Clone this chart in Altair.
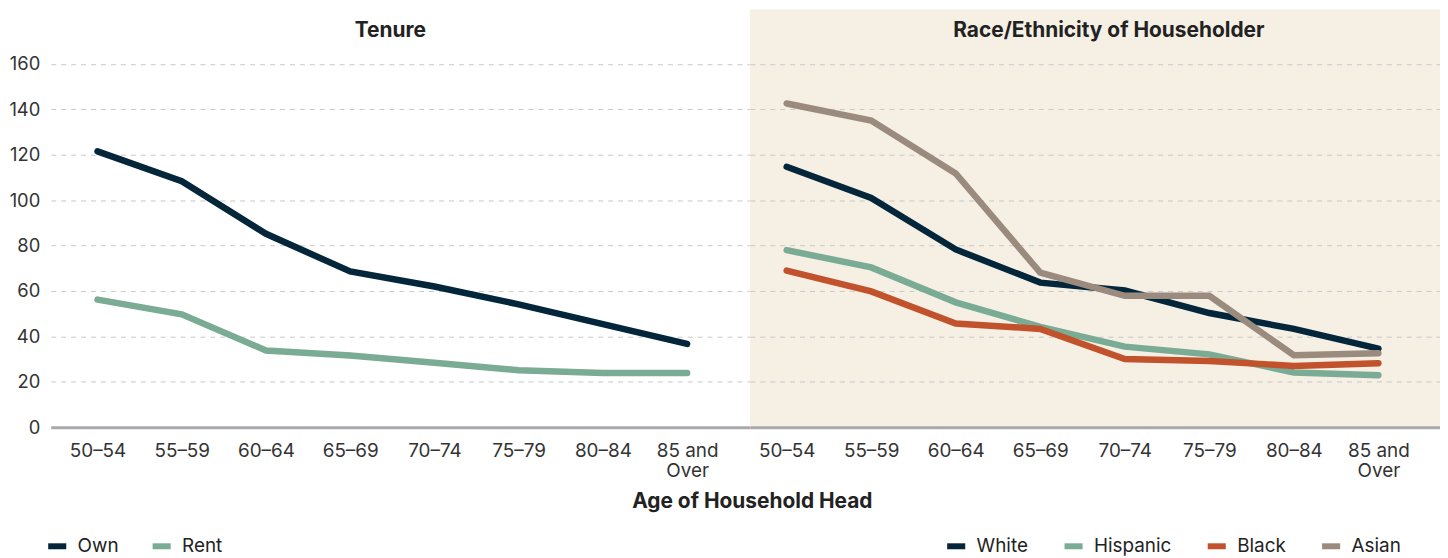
import altair as alt
import pandas as pd

# ---- data ----
ages = ["50–54", "55–59", "60–64", "65–69", "70–74", "75–79", "80–84", "85 and Over"]

own = [121.5, 108.4, 85.2, 68.6, 62.0, 54.1, 45.4, 36.7]
rent = [56.2, 49.7, 33.8, 31.6, 28.4, 25.1, 23.9, 23.9]

white = [114.7, 101.0, 78.3, 63.7, 60.2, 50.3, 43.3, 34.6]
hispanic = [78.0, 70.4, 55.0, 44.2, 35.5, 32.1, 24.1, 22.9]
black = [69.0, 59.8, 45.7, 43.3, 30.0, 29.2, 27.0, 28.2]
asian = [142.6, 135.1, 111.8, 68.1, 57.9, 57.9, 31.7, 32.6]

tenure_names = ["Own", "Rent"]
tenure_colors = ["#03263a", "#7aab94"]
race_names = ["White", "Hispanic", "Black", "Asian"]
race_colors = ["#03263a", "#7aab94", "#c1522b", "#9a8b7e"]

y_ticks = [0, 20, 40, 60, 80, 100, 120, 140, 160]

FONT = "Inter"
TXT = "#222222"


def long_table(names, series):
    rows = []
    for n, vals in zip(names, series):
        for a, v in zip(ages, vals):
            rows.append({"age": a, "series": n, "value": v})
    return pd.DataFrame(rows)


tenure_df = long_table(tenure_names, [own, rent])
race_df = long_table(race_names, [white, hispanic, black, asian])

label_expr = "datum.value == '85 and Over' ? ['85 and', 'Over'] : datum.label"


def panel(df, names, colors, padding, align, show_y, x_title, legend_x, col_pad):
    x_axis = alt.Axis(
        labelExpr=label_expr, labelAngle=0, ticks=False, labelPadding=14,
        domainColor="#a9a9ad", domainWidth=3, labelFontSize=19, labelColor="#333333",
        labelLineHeight=21, grid=False,
        title=x_title if x_title else None,
        **({"titleX": 705, "titleY": 75, "titleAlign": "center", "titleBaseline": "middle",
            "titleFontSize": 21, "titleFontWeight": "bold", "titleColor": TXT} if x_title else {})
    )
    y_axis = alt.Axis(
        values=y_ticks, title=None, ticks=False, domain=False, labels=show_y,
        labelFontSize=18.5, labelColor="#333333", labelPadding=11,
        grid=True, gridDash=[5, 5], gridColor="#c9c9c9", gridWidth=1,
    )
    x = alt.X("age:N", sort=ages, axis=x_axis,
              scale=alt.Scale(type="point", padding=padding, align=align))
    y = alt.Y("value:Q", axis=y_axis, scale=alt.Scale(domain=[0, 184], nice=False, zero=True))
    color = alt.Color(
        "series:N",
        scale=alt.Scale(domain=names, range=colors),
        legend=alt.Legend(
            title=None, orient="none", legendX=legend_x, legendY=527,
            direction="horizontal", columns=len(names),
            symbolType="stroke", symbolStrokeWidth=6, symbolSize=330,
            labelFontSize=19, labelColor=TXT, labelOffset=8, columnPadding=col_pad,
        ),
    )
    layers = [
        alt.Chart(df).transform_filter(alt.datum.series == n)
        .mark_line(strokeWidth=6.5, strokeCap="round")
        .encode(x=x, y=y, color=color)
        for n in names
    ]
    return alt.layer(*layers)


left = panel(tenure_df, tenure_names, tenure_colors, 0.65, 0.427, True,
             "Age of Household Head", -6, 21).properties(
    width=703, height=420,
    title=alt.TitleParams("Tenure", anchor="middle", frame="group", offset=-32,
                          fontSize=21, fontWeight="bold", color=TXT, dx=-10, font=FONT),
)

right = panel(race_df, race_names, race_colors, 0.582, 0.374, False,
              None, 195, 24).properties(
    width=694, height=420,
    view=alt.ViewBackground(fill="#f5efe4", stroke=None),
    title=alt.TitleParams("Race/Ethnicity of Householder", anchor="middle", frame="group",
                          offset=-32, fontSize=21, fontWeight="bold", color=TXT, dx=14, font=FONT),
)

chart = (
    alt.hconcat(left, right, spacing=0, bounds="flush")
    .resolve_scale(color="independent", x="independent", y="shared")
    .properties(padding=0)
    .configure_view(stroke=None)
    .configure_axis(labelFont=FONT, titleFont=FONT)
    .configure_legend(labelFont=FONT)
    .configure_title(font=FONT)
)

chart.save("out.html", embed_options={"renderer": "svg", "actions": False})
